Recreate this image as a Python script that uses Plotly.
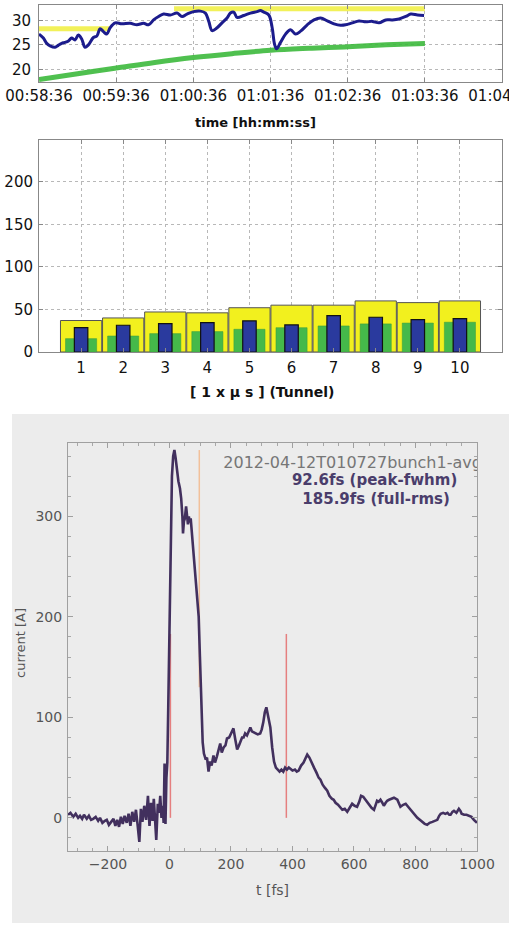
import plotly.graph_objects as go
import pandas as pd

# ---------------- data: top panel (time series) ----------------
start_time = "2012-04-12 00:58:36"
blue_sec = [0, 3.4, 6, 8.6, 12.5, 15, 17.7, 20, 22.9, 25.4, 28, 30.6, 33.2, 35.8, 38.4, 42.3, 45, 47.5,
            50.1, 52.7, 55.3, 59.2, 64.4, 70.9, 76.1, 81.3, 85.2, 89.1, 93, 96.9, 102.1, 107.3, 111.2,
            115.1, 120.2, 125.5, 129.4, 132, 134.6, 138.5, 142.3, 146.2, 148.8, 151.4, 154, 159.2,
            164.4, 169.6, 172, 174.8, 178.7, 181.3, 183.1, 184.7, 187.8, 191.7, 195.6, 199.5, 203.4,
            208.6, 213.8, 219, 224.2, 229.4, 234.5, 238.4, 243.6, 248.8, 254, 259.2, 264.4, 269.6,
            274.8, 280, 285.2, 289.1, 294.3, 299.4]
blue_val = [27.2, 26.4, 25.3, 24.8, 24.5, 24.9, 25.3, 25.5, 25.8, 26.4, 26.0, 27.0, 26.2, 24.5, 25.0,
            26.5, 26.8, 28.3, 27.7, 27.2, 28.5, 29.5, 29.3, 29.4, 29.1, 29.4, 29.1, 30.1, 30.8, 31.3,
            31.1, 31.5, 30.8, 31.3, 31.8, 31.9, 31.5, 29.8, 27.9, 28.5, 29.5, 30.5, 31.5, 31.7, 30.6,
            31.0, 31.5, 31.8, 32.0, 31.7, 31.1, 28.5, 25.2, 24.2, 25.5, 27.2, 28.1, 27.2, 27.8, 29.1,
            30.1, 30.5, 29.9, 29.3, 29.0, 29.1, 29.5, 29.9, 29.7, 29.8, 29.5, 30.1, 30.1, 30.3, 30.8,
            31.3, 31.1, 31.0]
green_sec = [0, 30, 59, 90, 120, 150, 180, 210, 240, 270, 300]
green_val = [17.9, 19.1, 20.2, 21.4, 22.4, 23.2, 23.9, 24.3, 24.6, 25.0, 25.3]
yellow_sec = [0, 55, None, 105, 300]
yellow_val = [28.3, 28.3, None, 32.4, 32.4]
time_tick_min = [0, 1, 2, 3, 4, 5, 6]

# ---------------- data: middle panel (bars) ----------------
bunch = [1, 2, 3, 4, 5, 6, 7, 8, 9, 10]
yellow_bars = [37, 40, 47, 46, 52, 55, 55, 60, 58, 60]
green_bars = [15.7, 18.8, 21.6, 24, 26.7, 28.6, 30.6, 33, 34, 35]
blue_bars = [28.6, 31.4, 33.3, 34.5, 36.5, 31.8, 42.7, 40.8, 38, 39.2]

# ---------------- data: bottom panel (current profile) ----------------
t_fs = [-330, -322, -313, -305, -297, -291, -284, -278, -269, -262, -255, -248, -240, -232, -226, -218,
        -210, -204, -197, -190, -182, -176, -170, -164, -158, -152, -146, -139, -133, -127, -121, -115,
        -109, -104, -98, -93, -88, -82, -76, -70, -65, -60, -55, -51, -47, -43, -38, -34, -30, -26, -22,
        -19, -16, -13, -10, -7, -4, -1, 2, 5, 8, 12, 16, 20, 24, 29, 34, 38, 42, 44, 47, 50, 54, 57, 60,
        63, 66, 69, 73, 78, 84, 90, 95, 99, 102, 105, 108, 112, 118, 122, 127, 132, 137, 143, 148, 154,
        160, 165, 170, 176, 182, 187, 194, 200, 208, 214, 220, 226, 231, 236, 241, 246, 252, 258, 263,
        268, 274, 280, 287, 295, 300, 305, 310, 315, 320, 328, 334, 340, 346, 352, 358, 364, 370, 376,
        382, 388, 394, 400, 408, 414, 420, 428, 436, 442, 448, 455, 462, 470, 478, 485, 491, 498, 505,
        513, 520, 528, 534, 540, 548, 556, 562, 570, 578, 586, 594, 602, 610, 617, 623, 630, 637, 643,
        648, 657, 665, 670, 675, 680, 686, 692, 697, 703, 708, 714, 720, 730, 741, 746, 751, 760, 768,
        776, 784, 790, 798, 806, 814, 822, 830, 838, 846, 855, 863, 871, 877, 882, 890, 897, 904, 910,
        914, 920, 925, 933, 941, 946, 950, 958, 966, 974, 982, 990, 1000]
current_A = [3, 5, 1, 4, 0, 2, -1, 3, -1, 2, -2, -1, 1, -3, 0, -5, -3, -2, -7, -4, -1, -8, -2, -9, 1,
             -6, 2, -5, 4, -8, 6, -4, 8, -6, -24, 9, -4, 12, -2, 22, -8, 15, -3, 19, 2, -22, 14, 5, 22,
             0, 12, -5, 54, -6, 40, 55, 110, 170, 240, 300, 340, 360, 366, 358, 344, 335, 328, 318, 300,
             283, 295, 298, 310, 296, 292, 300, 294, 298, 283, 262, 236, 215, 200, 160, 125, 95, 75, 64,
             58, 60, 46, 56, 52, 62, 55, 61, 70, 74, 65, 70, 72, 79, 80, 84, 89, 78, 68, 72, 76, 80, 80,
             84, 82, 87, 90, 86, 85, 84, 83, 84, 88, 95, 105, 110, 103, 90, 70, 56, 50, 48, 46, 48, 46,
             50, 48, 50, 48, 47, 48, 46, 47, 52, 55, 60, 63, 60, 56, 50, 45, 40, 38, 33, 30, 27, 22, 19,
             18, 15, 13, 10, 8, 9, 6, 10, 14, 12, 11, 16, 22, 21, 18, 15, 13, 10, 8, 13, 17, 16, 18, 15,
             12, 15, 17, 18, 19, 20, 18, 14, 11, 13, 14, 11, 8, 5, 2, 0, -2, -4, -6, -7, -5, -4, -3, -2,
             2, 4, 5, 4, 5, 3, 3, 6, 7, 5, 9, 7, 4, 3, 3, 2, 1, -2, -5]
red_line_t = [3, 380]
red_line_top = 183
orange_line_t = 97
orange_line_range = [130, 366]
label_run = "2012-04-12T010727bunch1-avg"
label_fwhm = "92.6fs (peak-fwhm)"
label_rms = "185.9fs (full-rms)"

# ---------------- figure ----------------
W, H = 509, 925
FONT = "DejaVu Sans"


def dx(px):
    return px / W


def dy(py):
    return 1 - py / H


t0 = pd.Timestamp(start_time)


def to_time(secs):
    return [None if s is None else t0 + pd.to_timedelta(s, unit="s") for s in secs]


fig = go.Figure()

# top panel
fig.add_trace(go.Scatter(x=to_time(yellow_sec), y=yellow_val, mode="lines",
                         line=dict(color="rgba(240,238,60,0.85)", width=5),
                         xaxis="x", yaxis="y", connectgaps=False))
fig.add_trace(go.Scatter(x=to_time(green_sec), y=green_val, mode="lines", line_shape="spline",
                         line=dict(color="rgba(60,185,60,0.9)", width=5), xaxis="x", yaxis="y"))
fig.add_trace(go.Scatter(x=to_time(blue_sec), y=blue_val, mode="lines", line_shape="spline",
                         line=dict(color="#1c1c8c", width=3), xaxis="x", yaxis="y"))

# middle panel
fig.add_trace(go.Bar(x=bunch, y=yellow_bars, width=0.98, marker=dict(color="#f2f01e",
                     line=dict(color="#555", width=1)), xaxis="x2", yaxis="y2"))
fig.add_trace(go.Bar(x=bunch, y=green_bars, width=0.74, marker=dict(color="#45b94a",
                     line=dict(color="#3a9a3e", width=0.5)), xaxis="x2", yaxis="y2"))
fig.add_trace(go.Bar(x=bunch, y=blue_bars, width=0.32, marker=dict(color="#2a3a9e",
                     line=dict(color="#111", width=1.2)), xaxis="x2", yaxis="y2"))

# bottom panel
for tv in red_line_t:
    fig.add_trace(go.Scatter(x=[tv, tv], y=[0, red_line_top], mode="lines",
                             line=dict(color="#e57f7f", width=1.5), xaxis="x3", yaxis="y3"))
fig.add_trace(go.Scatter(x=[orange_line_t, orange_line_t], y=orange_line_range, mode="lines",
                         line=dict(color="#f2c09a", width=1.5), xaxis="x3", yaxis="y3"))
fig.add_trace(go.Scatter(x=t_fs, y=current_A, mode="lines",
                         line=dict(color="#42305e", width=2.6), xaxis="x3", yaxis="y3"))
fig.add_trace(go.Scatter(x=[175], y=[352], mode="text", text=[label_run], textposition="middle right",
                         textfont=dict(family=FONT, size=16, color="#767676"), cliponaxis=True,
                         xaxis="x3", yaxis="y3"))
fig.add_trace(go.Scatter(x=[667, 672], y=[335, 316], mode="text", text=[label_fwhm, label_rms],
                         textposition="middle center",
                         textfont=dict(family=FONT, size=15, color="#4a3d6b", weight="bold"),
                         cliponaxis=False, xaxis="x3", yaxis="y3"))

tick_font = dict(family=FONT, size=15, color="#111")
grid_common = dict(showgrid=True, gridcolor="#b8b8b8", griddash="dot", gridwidth=1,
                   showline=True, mirror="ticks", linecolor="#888", linewidth=1,
                   ticks="inside", ticklen=4, tickcolor="#888", zeroline=False, automargin=False)

time_ticks = [t0 + pd.Timedelta(minutes=m) for m in time_tick_min]

fig.update_layout(
    width=W, height=H, autosize=False, margin=dict(l=0, r=0, t=0, b=0),
    paper_bgcolor="white", plot_bgcolor="rgba(0,0,0,0)",
    showlegend=False, barmode="overlay", font=dict(family=FONT),
    xaxis=dict(domain=[dx(39), dx(502)], anchor="y", type="date",
               range=[time_ticks[0], time_ticks[-1]], tickvals=time_ticks, tickformat="%H:%M:%S",
               tickfont=tick_font, ticklabelstandoff=0, ticklabeloverflow="allow", tickangle=0,
               **grid_common),
    yaxis=dict(domain=[dy(82), dy(5)], anchor="x", range=[17.4, 33.15], tickvals=[20, 25, 30],
               tickfont=tick_font, ticklabelstandoff=4, **grid_common),
    xaxis2=dict(domain=[dx(39), dx(502)], anchor="y2", range=[0, 11], tickvals=bunch,
                tickfont=tick_font, ticklabelstandoff=2, **grid_common),
    yaxis2=dict(domain=[dy(352), dy(140)], anchor="x2", range=[0, 249],
                tickvals=[0, 50, 100, 150, 200], tickfont=tick_font, ticklabelstandoff=2,
                **grid_common),
    xaxis3=dict(domain=[dx(68), dx(477)], anchor="y3", range=[-330, 1000],
                tickvals=[-200, 0, 200, 400, 600, 800, 1000], showgrid=False, zeroline=False,
                showline=True, mirror="ticks", linecolor="#a0a0a0", ticks="inside", ticklen=5,
                tickcolor="#a0a0a0", tickfont=dict(family=FONT, size=14, color="#555"),
                minor=dict(dtick=50, ticks="inside", ticklen=3, tickcolor="#a8a8a8"),
                ticklabelstandoff=0, automargin=False),
    yaxis3=dict(domain=[dy(851), dy(443)], anchor="x3", range=[-33, 373],
                tickvals=[0, 100, 200, 300], showgrid=False, zeroline=False,
                showline=True, mirror="ticks", linecolor="#a0a0a0", ticks="inside", ticklen=5,
                tickcolor="#a0a0a0", tickfont=dict(family=FONT, size=14, color="#555"),
                minor=dict(dtick=20, ticks="inside", ticklen=3, tickcolor="#a8a8a8"),
                ticklabelstandoff=2, automargin=False),
    shapes=[dict(type="rect", xref="paper", yref="paper", x0=dx(12), x1=1, y0=dy(923), y1=dy(414),
                 fillcolor="#ececec", line=dict(width=0), layer="below")],
    annotations=[
        dict(text="<b>time [hh:mm:ss]</b>", x=dx(256), y=dy(123), xref="paper", yref="paper",
             xanchor="center", yanchor="middle", showarrow=False,
             font=dict(family=FONT, size=13, color="#111")),
        dict(text="<b>[ 1 x \u03bc s ] (Tunnel)</b>", x=dx(262), y=dy(392), xref="paper",
             yref="paper", xanchor="center", yanchor="middle", showarrow=False,
             font=dict(family=FONT, size=14, color="#111")),
        dict(text="t [fs]", x=dx(272), y=dy(890), xref="paper", yref="paper", xanchor="center",
             yanchor="middle", showarrow=False, font=dict(family=FONT, size=14, color="#555")),
        dict(text="current [A]", x=dx(20), y=dy(643), xref="paper", yref="paper", xanchor="center",
             yanchor="middle", showarrow=False, textangle=-90,
             font=dict(family=FONT, size=13, color="#555")),
    ],
)

fig.write_html("out.html", config={"responsive": False, "displayModeBar": False},
               post_script="document.body.style.margin='0';document.body.style.overflow='hidden';")
